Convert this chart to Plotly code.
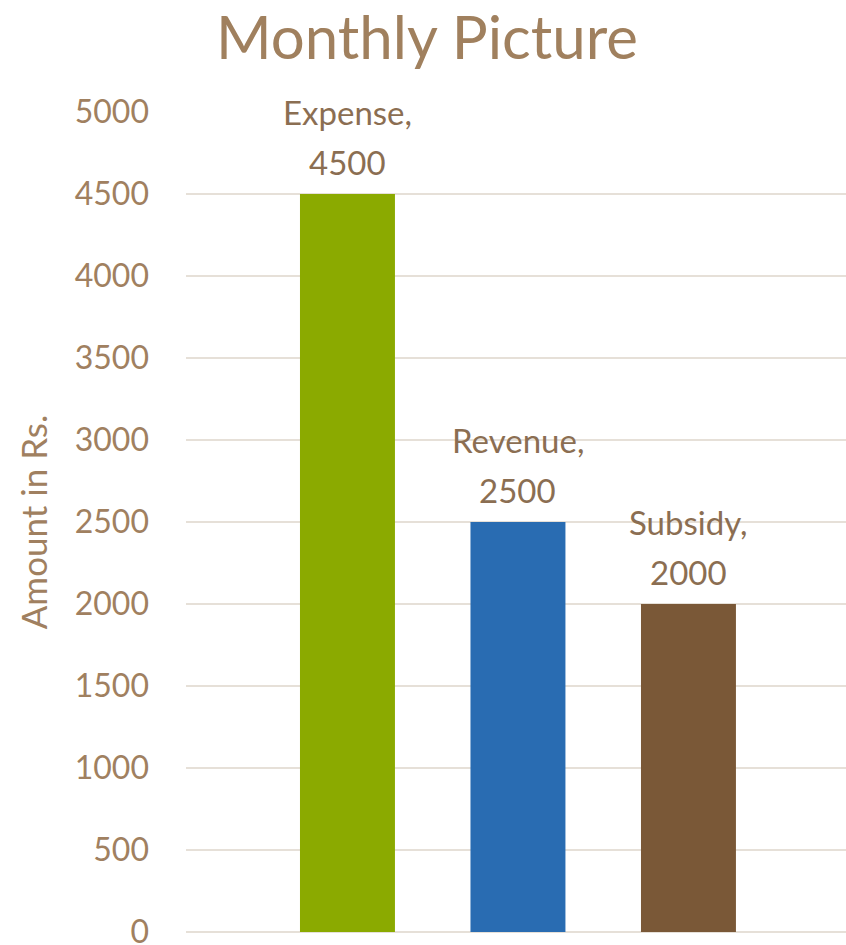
import plotly.graph_objects as go

# Monthly figures in rupees
categories = ["Expense", "Revenue", "Subsidy"]
amounts = [4500, 2500, 2000]
bar_colors = ["#8BAA00", "#296CB2", "#7A5837"]
y_ticks = [0, 500, 1000, 1500, 2000, 2500, 3000, 3500, 4000, 4500, 5000]

FONT = "Lato, 'Open Sans', sans-serif"
TICK_COLOR = "#A08060"
LABEL_COLOR = "#8B6E52"
GRID_COLOR = "#E6E0D8"

fig = go.Figure()
fig.add_trace(go.Bar(
    x=list(range(len(categories))),
    y=amounts,
    marker=dict(color=bar_colors, line=dict(width=0)),
    width=0.557,
    hoverinfo="skip",
))

# "Category," / value labels stacked above each bar
for i, (cat, val) in enumerate(zip(categories, amounts)):
    fig.add_annotation(
        x=i, y=val, text=str(val),
        showarrow=False, yanchor="bottom", yshift=10,
        font=dict(family=FONT, size=33, color=LABEL_COLOR),
    )
    fig.add_annotation(
        x=i, y=val, text=f"{cat},",
        showarrow=False, yanchor="bottom", yshift=60,
        font=dict(family=FONT, size=33, color=LABEL_COLOR),
    )

fig.update_layout(
    width=846, height=945,
    margin=dict(l=186, r=0, t=112, b=13),
    paper_bgcolor="white", plot_bgcolor="white",
    showlegend=False,
    title=dict(
        text="Monthly Picture", x=427 / 846, xanchor="center",
        y=1 - 38 / 945, yanchor="middle",
        font=dict(family=FONT, size=60, color="#A0805E"),
    ),
    font=dict(family=FONT),
)
fig.update_xaxes(
    range=[-0.947, 2.924], showticklabels=False, showgrid=False,
    zeroline=False, showline=False, ticks="", automargin=False,
)
fig.update_yaxes(
    range=[0, 5000], tickvals=y_ticks, ticktext=[str(v) for v in y_ticks],
    showgrid=True, gridcolor=GRID_COLOR, gridwidth=2,
    zeroline=True, zerolinecolor=GRID_COLOR, zerolinewidth=2,
    showline=False, ticks="", ticklabelstandoff=36,
    ticklabeloverflow="allow", automargin=False,
    tickfont=dict(family=FONT, size=32, color=TICK_COLOR),
    title=dict(text="Amount in Rs.", standoff=16,
               font=dict(family=FONT, size=35, color=TICK_COLOR)),
)

fig.write_html("out.html")
